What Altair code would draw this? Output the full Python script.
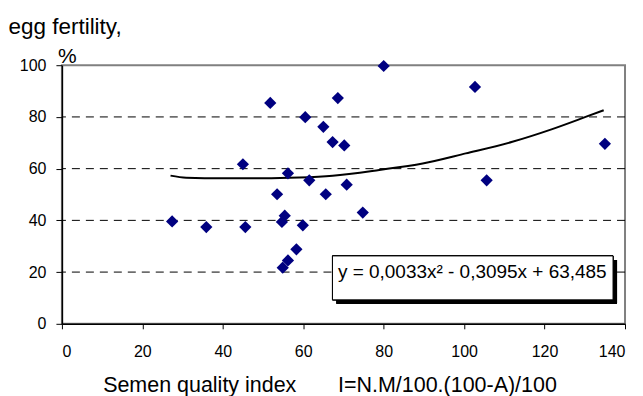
import altair as alt
import pandas as pd

# Semen quality index (x) and egg fertility % (y)
index_vals = [27.4, 35.9, 45.0, 45.6, 51.8, 53.5, 54.7, 55.4, 54.9, 56.2,
              56.2, 58.3, 59.9, 60.5, 61.5, 65.0, 65.6, 67.3, 68.6, 70.2,
              70.8, 74.8, 80.0, 102.7, 105.6, 135.0]
fertility_vals = [39.6, 37.4, 61.7, 37.4, 85.4, 50.1, 39.4, 41.8, 21.7, 24.5,
                  58.2, 28.8, 38.1, 79.9, 55.5, 76.2, 50.1, 70.3, 87.3, 69.0,
                  53.8, 43.0, 99.7, 91.6, 55.5, 69.6]

# polynomial trend line, as drawn in the picture
trend_x = [27.0, 30.9, 40.0, 50.0, 59.0, 67.3, 78.9, 89.7, 100.4, 112.0, 121.9, 130.2, 134.7]
trend_y = [57.3, 56.5, 56.3, 56.3, 56.6, 57.3, 59.5, 62.0, 65.9, 70.4, 75.3, 80.0, 82.6]

x_ticks = [0, 20, 40, 60, 80, 100, 120, 140]
y_ticks = [0, 20, 40, 60, 80, 100]
grid_vals = [20, 40, 60, 80]
equation = "y = 0,0033x\u00b2 - 0,3095x + 63,485"
x_title = "Semen quality index" + "\u00a0" * 7 + "I=N.M/100.(100-A)/100"
y_title = "egg fertility,"

df = pd.DataFrame({"x": index_vals, "y": fertility_vals})
trend_df = pd.DataFrame({"x": trend_x, "y": trend_y})
grid_df = pd.DataFrame({"y": grid_vals})
FONT = "Liberation Sans"

xs = alt.Scale(domain=[0, 140], nice=False, zero=False)
ys = alt.Scale(domain=[0, 100], nice=False, zero=False)

x_axis = alt.Axis(values=x_ticks, grid=False, tickSize=5, labelPadding=15,
                  title=x_title, titleX=268, titleY=68, titleBaseline="alphabetic",
                  titleAlign="center", titleAnchor="middle", titleFontSize=21.5)
y_axis = alt.Axis(values=y_ticks, grid=False, tickSize=6, labelPadding=10,
                  title=y_title, titleAngle=0, titleAlign="left",
                  titleBaseline="alphabetic", titleX=-54, titleY=-32, titleFontSize=22.5)

X = alt.X("x:Q", scale=xs, axis=x_axis, title=x_title)
Y = alt.Y("y:Q", scale=ys, axis=y_axis, title=y_title)

grid = alt.Chart(grid_df).mark_rule(color="black", strokeWidth=1, strokeDash=[8, 6]).encode(
    y=Y
)

points = alt.Chart(df).mark_point(shape="diamond", filled=True, color="#000080", size=150, opacity=1).encode(
    x=X, y=Y
)

trend = alt.Chart(trend_df).mark_line(color="black", strokeWidth=2, interpolate="monotone").encode(
    x=X, y=Y
)

shadow = alt.Chart(grid_df).mark_rect(color="black").encode(
    x=alt.value(275), x2=alt.value(556), y=alt.value(195), y2=alt.value(239)
)
box = alt.Chart(grid_df).mark_rect(fill="white", stroke="black", strokeWidth=1).encode(
    x=alt.value(271), x2=alt.value(552), y=alt.value(191), y2=alt.value(235)
)
eq_text = alt.Chart(pd.DataFrame({"t": [equation]})).mark_text(
    font=FONT, fontSize=19, color="black", align="center", baseline="middle"
).encode(x=alt.value(411), y=alt.value(207), text="t:N")

pct = alt.Chart(pd.DataFrame({"t": ["%"]})).mark_text(
    font=FONT, fontSize=21, color="black", align="center", baseline="alphabetic"
).encode(x=alt.value(5.5), y=alt.value(-2), text="t:N")

chart = alt.layer(grid, trend, points, shadow, box, eq_text, pct).properties(
    width=564, height=259,
    autosize=alt.AutoSizeParams(type="none"),
    padding={"left": 54, "top": 57, "right": 10, "bottom": 72},
).configure_view(
    stroke="#808080", strokeWidth=2
).configure_axis(
    domainColor="black", domainWidth=1.5, tickColor="black", tickWidth=1,
    labelFont=FONT, labelFontSize=16, labelColor="black",
    titleFont=FONT, titleFontSize=21, titleFontWeight="normal", titleColor="black",
)

chart.save("out.html", embed_options={"renderer": "svg", "actions": False})
